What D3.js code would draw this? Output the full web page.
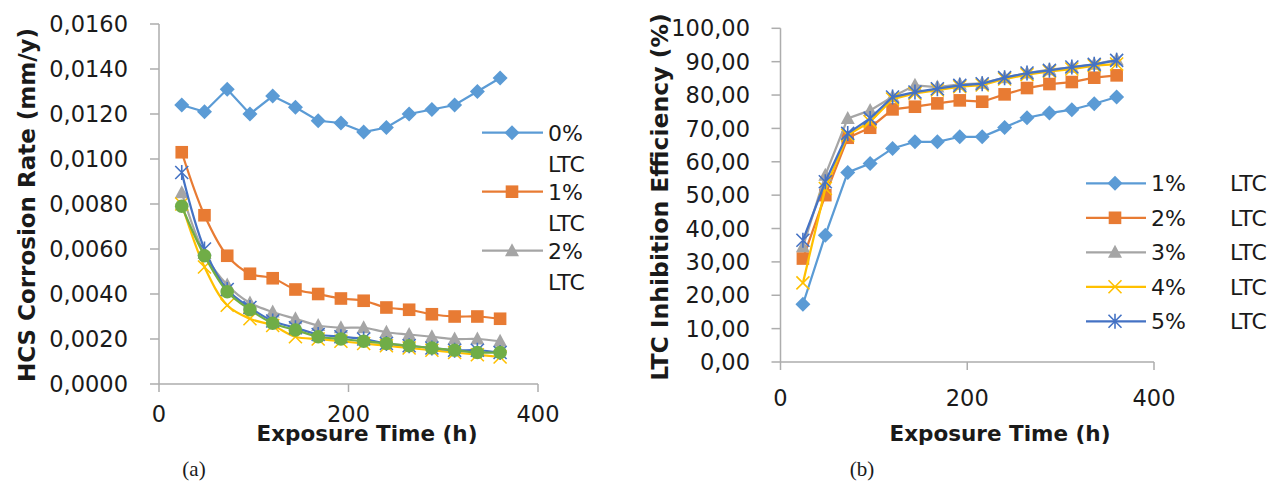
<!DOCTYPE html>
<html><head><meta charset="utf-8">
<script src="https://cdn.jsdelivr.net/npm/d3@7"></script>
<style>
html,body{margin:0;padding:0;background:#fff;}
svg{display:block;}
text{font-family:"DejaVu Sans",sans-serif;fill:#1a1a1a;}
</style></head><body>
<svg id="c" width="1275" height="484"></svg>
<script>
// ---------- DATA ----------
const hours = [24,48,72,96,120,144,168,192,216,240,264,288,312,336,360];
// (a) corrosion rate (mm/y)
const rateNames = ["0% LTC","1% LTC","2% LTC","3% LTC","4% LTC","5% LTC"];
const rate0 = [0.0124,0.0121,0.0131,0.0120,0.0128,0.0123,0.0117,0.0116,0.0112,0.0114,0.0120,0.0122,0.0124,0.0130,0.0136];
const rate1 = [0.0103,0.0075,0.0057,0.0049,0.0047,0.0042,0.0040,0.0038,0.0037,0.0034,0.0033,0.0031,0.0030,0.0030,0.0029];
const rate2 = [0.0085,0.0058,0.0044,0.0036,0.0032,0.0029,0.0026,0.0025,0.0025,0.0023,0.0022,0.0021,0.0020,0.0020,0.0019];
const rate3 = [0.0080,0.0052,0.0035,0.0029,0.0026,0.0021,0.0020,0.0019,0.0018,0.0017,0.0016,0.0015,0.0014,0.0013,0.0012];
const rate4 = [0.0094,0.0060,0.0042,0.0034,0.0028,0.0025,0.0022,0.0021,0.0020,0.0018,0.0017,0.0016,0.0015,0.0015,0.0014];
const rate5 = [0.0079,0.0057,0.0041,0.0033,0.0027,0.0024,0.0021,0.0020,0.0019,0.0018,0.0017,0.0016,0.0015,0.0014,0.0014];
const rateTicks = [0,0.002,0.004,0.006,0.008,0.010,0.012,0.014,0.016];
// (b) inhibition efficiency (%)
const effNames = ["1% LTC","2% LTC","3% LTC","4% LTC","5% LTC"];
const eff1 = [17.3,38.0,56.8,59.5,64.0,66.0,66.0,67.5,67.5,70.3,73.2,74.6,75.6,77.4,79.4];
const eff2 = [31.0,50.0,67.2,70.2,75.7,76.5,77.5,78.4,78.0,80.2,82.1,83.3,83.9,85.2,85.9];
const eff3 = [34.5,56.0,73.0,75.4,79.5,82.9,82.4,83.2,83.5,85.2,86.6,87.6,88.3,89.2,90.6];
const eff4 = [23.7,52.0,68.0,72.0,78.8,80.5,81.5,82.5,83.0,84.8,86.1,87.1,87.8,88.8,89.3];
const eff5 = [36.5,54.0,68.5,73.0,79.4,80.9,81.9,82.9,83.4,85.2,86.6,87.4,88.4,89.2,90.4];
const effTicks = [0,10,20,30,40,50,60,70,80,90,100];
const timeTicks = [0,200,400];

// ---------- STYLE ----------
const colors = ["#5B9BD5","#E87B33","#A5A5A5","#FFC000","#4472C4","#70AD47"];
const axisColor = "#ADADAD";
const svg = d3.select("#c");

function diamondPath(x,y){return `M${x},${y-7.5}L${x+7.5},${y}L${x},${y+7.5}L${x-7.5},${y}Z`;}
function marker(g, type, x, y, color){
  if(type==="diamond"){
    g.append("path").attr("d",diamondPath(x,y)).attr("fill",color);
  } else if(type==="square"){
    g.append("rect").attr("x",x-6.3).attr("y",y-6.3).attr("width",12.6).attr("height",12.6).attr("fill",color);
  } else if(type==="triangle"){
    g.append("path").attr("d",`M${x},${y-7.5}L${x+7},${y+5.5}L${x-7},${y+5.5}Z`).attr("fill",color);
  } else if(type==="x"){
    g.append("path").attr("d",`M${x-6.5},${y-6.5}L${x+6.5},${y+6.5}M${x-6.5},${y+6.5}L${x+6.5},${y-6.5}`).attr("stroke",color).attr("stroke-width",1.6).attr("fill","none");
  } else if(type==="star"){
    g.append("path").attr("d",`M${x-6.5},${y-6.5}L${x+6.5},${y+6.5}M${x-6.5},${y+6.5}L${x+6.5},${y-6.5}M${x},${y-7.5}L${x},${y+7.5}`).attr("stroke",color).attr("stroke-width",1.6).attr("fill","none");
  } else if(type==="circle"){
    g.append("circle").attr("cx",x).attr("cy",y).attr("r",6.8).attr("fill",color);
  }
}

function drawAxes(x, y, yTicks, fmt, yLabelX, xLabelY){
  const g = svg.append("g");
  const [x0,x1] = x.range(); const [y0,y1] = y.range();
  g.append("line").attr("x1",x0).attr("x2",x0).attr("y1",y0).attr("y2",y1).attr("stroke",axisColor).attr("stroke-width",1.5);
  g.append("line").attr("x1",x0).attr("x2",x1).attr("y1",y0).attr("y2",y0).attr("stroke",axisColor).attr("stroke-width",1.5);
  yTicks.forEach(t=>{
    g.append("line").attr("x1",x0-9).attr("x2",x0).attr("y1",y(t)).attr("y2",y(t)).attr("stroke",axisColor).attr("stroke-width",1.5);
    g.append("text").attr("x",yLabelX).attr("y",y(t)).attr("dy","0.36em").attr("text-anchor","end").style("font-size","22.5px").text(fmt(t));
  });
  timeTicks.forEach(t=>{
    g.append("line").attr("x1",x(t)).attr("x2",x(t)).attr("y1",y0).attr("y2",y0+8).attr("stroke",axisColor).attr("stroke-width",1.5);
    g.append("text").attr("x",x(t)).attr("y",xLabelY).attr("dy","0.36em").attr("text-anchor","middle").style("font-size","22.5px").text(t);
  });
}

// ---------- CHART (a) ----------
const xa = d3.scaleLinear().domain([0,400]).range([159,538]);
const ya = d3.scaleLinear().domain([0,0.016]).range([384,24]);
drawAxes(xa, ya, rateTicks, v=>d3.format(".4f")(v).replace(".",","), 128, 414);
const rateSeries = [rate0,rate1,rate2,rate3,rate4,rate5];
const rateMarkers = ["diamond","square","triangle","x","star","circle"];
rateSeries.forEach((s,i)=>{
  const g = svg.append("g");
  const line = d3.line().x((d,j)=>xa(hours[j])).y(d=>ya(d)).curve(i===0?d3.curveLinear:d3.curveCatmullRom.alpha(0.5));
  g.append("path").attr("d",line(s)).attr("fill","none").attr("stroke",colors[i]).attr("stroke-width",2.25);
  s.forEach((v,j)=>marker(g, rateMarkers[i], xa(hours[j]), ya(v), colors[i]));
});
// legend (a) (truncated in original)
const legA = svg.append("g");
[0,1,2].forEach((i,k)=>{
  const ly = 132.7 + k*59;
  legA.append("line").attr("x1",482).attr("x2",543).attr("y1",ly).attr("y2",ly).attr("stroke",colors[i]).attr("stroke-width",2.25);
  marker(legA, rateMarkers[i], 512, ly, colors[i]);
  const parts = rateNames[i].split(" ");
  legA.append("text").attr("x",548).attr("y",ly).attr("dy","0.36em").style("font-size","22px").text(parts[0]);
  legA.append("text").attr("x",548).attr("y",ly+31).attr("dy","0.36em").style("font-size","22px").text(parts[1]);
});
svg.append("text").attr("transform","translate(27,205) rotate(-90)").attr("text-anchor","middle").attr("dy","0.36em")
  .style("font-size","23px").style("font-weight","bold").text("HCS Corrosion Rate (mm/y)");
svg.append("text").attr("x",367).attr("y",433).attr("dy","0.36em").attr("text-anchor","middle")
  .style("font-size","21.5px").style("font-weight","bold").text("Exposure Time (h)");
svg.append("text").attr("x",194).attr("y",468).attr("dy","0.36em").attr("text-anchor","middle")
  .style("font-family","'Liberation Serif',serif").style("font-size","21px").text("(a)");

// ---------- CHART (b) ----------
const xb = d3.scaleLinear().domain([0,400]).range([780.5,1154]);
const yb = d3.scaleLinear().domain([0,100]).range([362,28.3]);
drawAxes(xb, yb, effTicks, v=>d3.format(".2f")(v).replace(".",","), 750, 398);
const effSeries = [eff1,eff2,eff3,eff4,eff5];
const effMarkers = ["diamond","square","triangle","x","star"];
effSeries.forEach((s,i)=>{
  const g = svg.append("g");
  const line = d3.line().x((d,j)=>xb(hours[j])).y(d=>yb(d)).curve(d3.curveLinear);
  g.append("path").attr("d",line(s)).attr("fill","none").attr("stroke",colors[i]).attr("stroke-width",2.25);
  s.forEach((v,j)=>marker(g, effMarkers[i], xb(hours[j]), yb(v), colors[i]));
});
const legB = svg.append("g");
effNames.forEach((n,i)=>{
  const ly = 183.3 + i*34.5;
  legB.append("line").attr("x1",1086).attr("x2",1146).attr("y1",ly).attr("y2",ly).attr("stroke",colors[i]).attr("stroke-width",2.25);
  marker(legB, effMarkers[i], 1115, ly, colors[i]);
  const parts = n.split(" ");
  legB.append("text").attr("x",1151).attr("y",ly).attr("dy","0.36em").style("font-size","22px").text(parts[0]);
  legB.append("text").attr("x",1230).attr("y",ly).attr("dy","0.36em").style("font-size","22px").text(parts[1]);
});
svg.append("text").attr("transform","translate(660,197) rotate(-90)").attr("text-anchor","middle").attr("dy","0.36em")
  .style("font-size","23.5px").style("font-weight","bold").text("LTC Inhibition Efficiency (%)");
svg.append("text").attr("x",1000).attr("y",433).attr("dy","0.36em").attr("text-anchor","middle")
  .style("font-size","21.5px").style("font-weight","bold").text("Exposure Time (h)");
svg.append("text").attr("x",862).attr("y",468).attr("dy","0.36em").attr("text-anchor","middle")
  .style("font-family","'Liberation Serif',serif").style("font-size","21px").text("(b)");
</script></body></html>
